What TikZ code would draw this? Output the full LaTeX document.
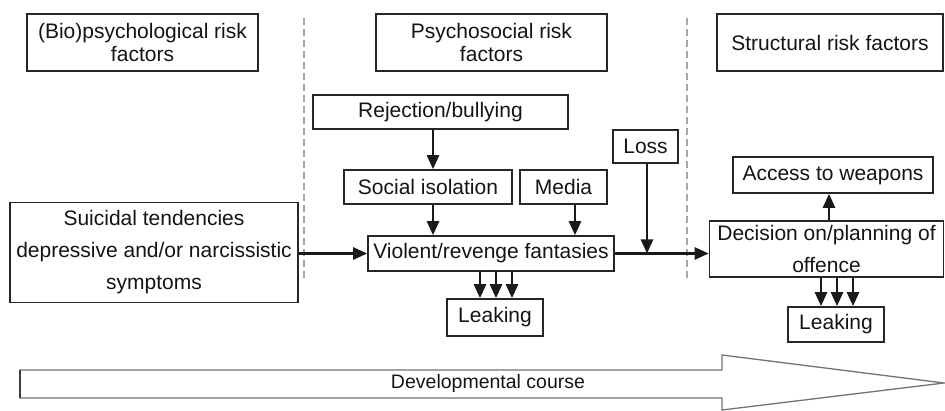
\documentclass[tikz,border=0pt]{standalone}
\usepackage{fontspec}
\setmainfont{Liberation Sans}
\usetikzlibrary{arrows.meta,calc}

\begin{document}
\begin{tikzpicture}[x=1pt,y=-1pt,
  box/.style={draw=black!85, line width=1.6pt, inner sep=0pt, align=center,
    text=black!92, font=\fontsize{21}{32}\selectfont},
  head/.style={box, font=\fontsize{21}{23}\selectfont},
  arr/.style={draw=black!90, line width=2.5pt,
    -{Triangle[length=14pt,width=12pt]}},
  divider/.style={draw=black!35, line width=1.6pt, dash pattern=on 7pt off 4pt},
  course/.style={draw=black!55, line width=1.3pt, line join=miter}
]
\useasboundingbox (0,0) rectangle (945,411);

% column headings
\node[head, minimum width=231pt, minimum height=57pt] (bio) at (142.5,42.5)
  {(Bio)psychological risk\\factors};
\node[head, minimum width=231pt, minimum height=57pt] (psy) at (491.5,42.5)
  {Psychosocial risk\\factors};
\node[head, minimum width=226pt, minimum height=57pt] (str) at (830,42.5)
  {Structural risk factors};

% column dividers
\coordinate (d1t) at (304,18);
\coordinate (d1b) at (304,278);
\coordinate (d2t) at (687,18);
\coordinate (d2b) at (687,278);
\draw[divider] (d1t) -- (d1b);
\draw[divider] (d2t) -- (d2b);

% factor boxes
\node[box, minimum width=255pt, minimum height=34pt] (rej) at (440.5,112) {Rejection/bullying};
\node[box, minimum width=168pt, minimum height=34pt] (soc) at (428,187) {Social isolation};
\node[box, minimum width=87pt, minimum height=34pt] (med) at (563.5,187) {Media};
\node[box, minimum width=65pt, minimum height=33pt] (loss) at (645.5,146.5) {Loss};
\node[box, minimum width=200pt, minimum height=36pt] (acc) at (833,175) {Access to weapons};
\node[box, minimum width=288pt, minimum height=100pt] (sui) at (154,252.5)
  {Suicidal tendencies\\depressive and/or narcissistic\\symptoms};
\node[box, minimum width=246pt, minimum height=35pt] (vio) at (491,253.5) {Violent/revenge fantasies};
\node[box, minimum width=96pt, minimum height=37pt] (lk1) at (495,317.5) {Leaking};
\node[box, minimum width=234pt, minimum height=56pt] (dec) at (826.5,249)
  {Decision on/planning of\\offence};
\node[box, minimum width=96pt, minimum height=35pt] (lk2) at (836,324.5) {Leaking};

% main path
\draw[arr] (sui.east |- vio.west) -- (vio.west);
\draw[arr] (vio.east) -- (vio.east -| dec.west);
\draw[arr] ([xshift=1.5pt]loss.south) -- ([xshift=1.5pt]loss.south |- vio.east);

% influences on the fantasies
\draw[arr] ([xshift=5pt]soc.north |- rej.south) -- ([xshift=5pt]soc.north);
\draw[arr] ([xshift=5pt]soc.south) -- ([xshift=5pt]soc.south |- vio.north);
\draw[arr] ([xshift=11.5pt]med.south) -- ([xshift=11.5pt]med.south |- vio.north);

% leaking
\foreach \dx in {-15,1,17}
  \draw[arr] ([xshift=\dx pt]lk1.north |- vio.south) -- ([xshift=\dx pt]lk1.north);
\foreach \dx in {-15,1,17}
  \draw[arr] ([xshift=\dx pt]lk2.north |- dec.south) -- ([xshift=\dx pt]lk2.north);

% access to weapons
\draw[arr] ([xshift=2.5pt]dec.north) -- ([xshift=2.5pt]dec.north |- acc.south);

% developmental course arrow
\draw[course] (20,370) -- (722,370) -- (722,355) -- (944,383) -- (722,410)
  -- (722,398) -- (20,398) -- cycle;
\draw[draw=black!75, line width=1.6pt] (20,370) -- (20,398);
\node[text=black!92, font=\fontsize{19.5}{22}\selectfont] (dev) at (488,383)
  {Developmental course};
\end{tikzpicture}
\end{document}
